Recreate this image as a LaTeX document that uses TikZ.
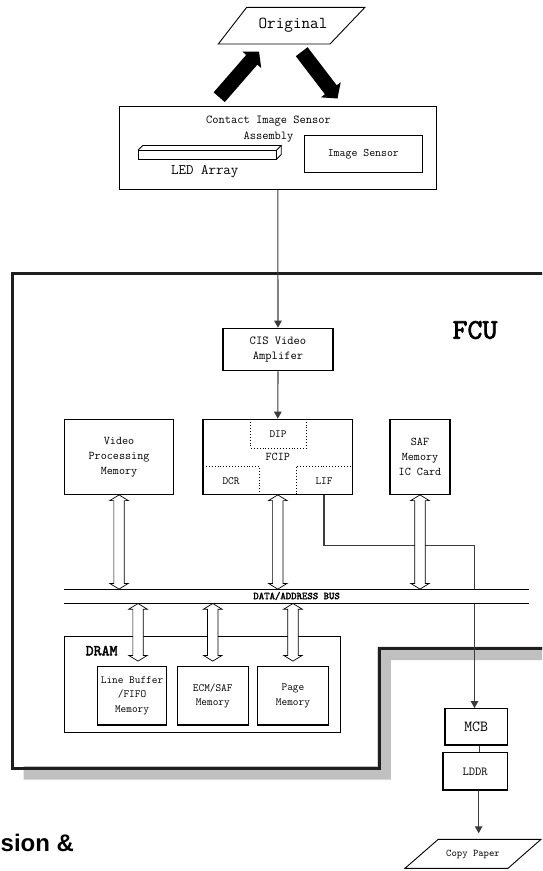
\documentclass[tikz,border=0pt]{standalone}
\usepackage{fontspec}
\newfontfamily\arialf{Liberation Sans}
\newfontfamily\ttbf{lmmono10-regular.otf}[FakeBold=2.5]
\usetikzlibrary{arrows.meta,calc}
\newcommand\fs[2]{\fontsize{#1}{#2}\selectfont}
\definecolor{shadowgray}{RGB}{192,192,192}
\definecolor{connc}{RGB}{60,60,60}
\definecolor{borderc}{RGB}{30,30,30}
\tikzset{
 box/.style={draw=black, line width=1.2pt, fill=white, inner sep=0pt, align=center},
 lbl/.style={inner sep=0pt, align=center, text=black},
 conn/.style={draw=connc, line width=1.1pt},
 arr/.style={conn, -{Triangle[width=7.5pt,length=7pt]}},
 dblarrow/.style={draw=black, line width=0.7pt, fill=white},
 dots/.style={draw=black, line width=0.9pt, dash pattern=on 0.9pt off 2pt},
}
\newcommand\dblarr[2]{%
 \draw[dblarrow] let \p1=(#1), \p2=(#2) in
 (\x1,\y1) -- (\x1+9.3pt,\y1-5.7pt) -- (\x1+5.2pt,\y1-5.7pt) -- (\x1+5.2pt,\y2+5.7pt)
 -- (\x1+9.3pt,\y2+5.7pt) -- (\x1,\y2) -- (\x1-9.3pt,\y2+5.7pt) -- (\x1-5.2pt,\y2+5.7pt)
 -- (\x1-5.2pt,\y1-5.7pt) -- (\x1-9.3pt,\y1-5.7pt) -- cycle;}
\newcommand\bigarrow[2]{%
 \coordinate (tmph) at ($(#2)!11pt!(#1)$);
 \fill[black] ($(#1)!7.4pt!90:(#2)$) -- ($(tmph)!7.4pt!-90:(#1)$) -- ($(tmph)!12.5pt!-90:(#1)$)
 -- (#2) -- ($(tmph)!12.5pt!90:(#1)$) -- ($(tmph)!7.4pt!90:(#1)$) -- ($(#1)!7.4pt!-90:(#2)$) -- cycle;}
\begin{document}
\begin{tikzpicture}[x=1pt,y=-1pt,font=\ttfamily]
\useasboundingbox (0,0) rectangle (542,871);
\clip (0,0) rectangle (542,871);
% FCU outline with shadow strip
\fill[shadowgray] (23.5,766) -- (377.3,766) -- (377.3,646.5) -- (560,646.5) -- (560,660) -- (390.8,660) -- (390.8,779.5) -- (23.5,779.5) -- cycle;
\draw[line width=3pt, draw=borderc, line join=miter] (560,273) -- (12,273) -- (12,768) -- (379.3,768) -- (379.3,648.5) -- (560,648.5);
\node[lbl, font=\ttbf\fs{28.5}{30}] (fcu) at (475,330) {FCU};
% Original
\draw[line width=0.9pt] (246.7,7.3) -- (365,7.3) -- (330,44) -- (218.3,44) -- cycle;
\node[lbl, font=\ttfamily\fs{16.7}{18}] (orig) at (293,25.5) {Original};
% thick arrows
\coordinate (la0) at (219.2,97.2);
\coordinate (la1) at (259,51.5);
\coordinate (ra0) at (301.7,51.7);
\coordinate (ra1) at (337.5,98.5);
\bigarrow{la0}{la1}
\bigarrow{ra0}{ra1}
% CIS assembly
\node[box, line width=1pt, minimum width=317.7pt, minimum height=82.6pt] (cis) at (277.85,148) {};
\node[lbl, font=\ttfamily\fs{12.1}{15.7}] (cistext) at (268.5,129) {Contact Image Sensor\\Assembly};
\node[box, line width=1pt, minimum width=118.7pt, minimum height=36.6pt, font=\ttfamily\fs{11.5}{12}] (imgs) at (363.35,154) {Image Sensor};
\draw[line width=0.8pt] (138.3,150) rectangle (276.7,159);
\draw[line width=0.8pt] (138.3,150) -- (142.8,145.5) -- (281.2,145.5) -- (276.7,150);
\draw[line width=0.8pt] (281.2,145.5) -- (281.2,154.5) -- (276.7,159);
\node[lbl, font=\ttfamily\fs{14.5}{16}] (led) at (204.8,171.5) {LED Array};
% FCU internals
\node[box, minimum width=110pt, minimum height=42.4pt, font=\ttfamily\fs{12.2}{15}] (cisamp) at (278,349.5) {CIS Video\\Amplifer};
\node[box, minimum width=108.9pt, minimum height=75pt, font=\ttfamily\fs{11.8}{15}] (vpm) at (119.05,456.8) {Video\\Processing\\Memory};
\node[box, minimum width=149.6pt, minimum height=75pt, font=\ttfamily\fs{11.8}{12}] (fcip) at (277.8,456.8) {FCIP};
\node[box, minimum width=60pt, minimum height=75pt, font=\ttfamily\fs{11.8}{15}] (saf) at (420,456.8) {SAF\\Memory\\IC Card};
\draw[dots] (250.6,419.3) -- (250.6,448) -- (306.6,448) -- (306.6,419.3);
\draw[dots] (203,466) -- (259,466) -- (259,494.3);
\draw[dots] (296.6,494.3) -- (296.6,466) -- (352.6,466);
\node[lbl, font=\ttfamily\fs{11}{12}] (dip) at (278,434) {DIP};
\node[lbl, font=\ttfamily\fs{11}{12}] (dcr) at (231,481) {DCR};
\node[lbl, font=\ttfamily\fs{11}{12}] (lif) at (324,481) {LIF};
% connectors
\draw[arr] (cis.south) -- (cisamp.north);
\draw[arr] (cisamp.south) -- (fcip.north);
% MCB / LDDR
\node[box, minimum width=62.3pt, minimum height=36.3pt, font=\ttfamily\fs{15.4}{16}] (mcb) at (476.15,726.85) {MCB};
\node[box, minimum width=64.3pt, minimum height=37.3pt, font=\ttfamily\fs{12.2}{13}] (lddr) at (475.15,771.35) {LDDR};
\coordinate (lifturn) at (474.5,545.3);
\draw[arr] (fcip.south -| lif) |- (lifturn) -- (lifturn |- mcb.north);
\draw[conn, line width=1pt] ([xshift=3pt]mcb.south) -- ([xshift=3pt]mcb.south |- lddr.north);
% Copy paper
\draw[line width=0.9pt] (438.3,839.3) -- (541,839.3) -- (508,868.3) -- (405,868.3) -- cycle;
\node[lbl, font=\ttfamily\fs{10.2}{11}] (copy) at (473,854.5) {Copy Paper};
\coordinate (cptop) at ([xshift=3.5pt]lddr.south |- 0,833.3);
\draw[arr] ([xshift=3.5pt]lddr.south) -- (cptop);
% bus
\node[inner sep=0pt, fill=white, minimum width=464.4pt, minimum height=14pt] (bus) at (296.8,596.3) {};
\node[lbl, font=\ttbf\fs{10.3}{11}] (bustext) at (296.6,596) {DATA/ADDRESS BUS};
\draw[line width=1pt] (bus.north west) -- (bus.north east);
\draw[line width=1pt] (bus.south west) -- (bus.south east);
\dblarr{vpm.south}{vpm.south |- bus.north}
\dblarr{fcip.south}{fcip.south |- bus.north}
\dblarr{saf.south}{saf.south |- bus.north}
% DRAM
\node[box, line width=1.1pt, minimum width=275.9pt, minimum height=96pt] (dram) at (202.55,684.7) {};
\node[lbl, font=\ttbf\fs{15.1}{16}] (dramtext) at (101.6,650.7) {DRAM};
\node[box, minimum width=69.1pt, minimum height=58.3pt, font=\ttfamily\fs{11}{14.2}] (lbuf) at (132.05,695.85) {Line Buffer\\/FIFO\\Memory};
\node[box, minimum width=70.9pt, minimum height=58.3pt, font=\ttfamily\fs{11}{14.2}] (ecm) at (212.75,695.85) {ECM/SAF\\Memory};
\node[box, minimum width=70.9pt, minimum height=58.3pt, font=\ttfamily\fs{11}{14.2}] (page) at (292.95,695.85) {Page\\Memory};
\coordinate (lbA) at ([xshift=6pt,yshift=5pt]lbuf.north);
\coordinate (ecA) at ([yshift=5pt]ecm.north);
\coordinate (pgA) at ([yshift=5pt]page.north);
\dblarr{lbA |- bus.south}{lbA}
\dblarr{ecA |- bus.south}{ecA}
\dblarr{pgA |- bus.south}{pgA}
% stray heading fragment
\node[lbl, anchor=base west, font=\arialf\fs{24}{26}\bfseries] (frag) at (0.5,851) {sion \&};
\end{tikzpicture}
\end{document}
